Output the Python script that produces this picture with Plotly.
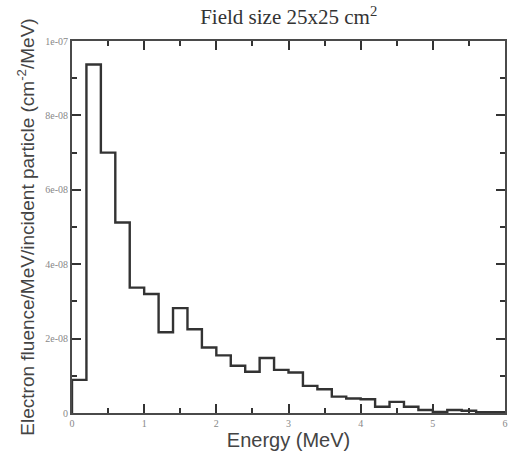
import plotly.graph_objects as go

# Electron fluence spectrum, 0.2 MeV bins
bin_edges = [0.0, 0.2, 0.4, 0.6, 0.8, 1.0, 1.2, 1.4, 1.6, 1.8, 2.0, 2.2, 2.4, 2.6, 2.8,
             3.0, 3.2, 3.4, 3.6, 3.8, 4.0, 4.2, 4.4, 4.6, 4.8, 5.0, 5.2, 5.4, 5.6, 5.8]
fluence = [0.89e-8, 9.37e-8, 7.00e-8, 5.12e-8, 3.37e-8, 3.20e-8, 2.17e-8, 2.82e-8, 2.25e-8,
           1.76e-8, 1.55e-8, 1.27e-8, 1.11e-8, 1.48e-8, 1.16e-8, 1.09e-8, 0.73e-8, 0.64e-8,
           0.44e-8, 0.39e-8, 0.37e-8, 0.17e-8, 0.30e-8, 0.17e-8, 0.08e-8, 0.03e-8, 0.08e-8,
           0.06e-8, 0.02e-8]

y_tickvals = [0, 2e-8, 4e-8, 6e-8, 8e-8, 1e-7]
y_ticktext = ["0", "2e-08", "4e-08", "6e-08", "8e-08", "1e-07"]
x_tickvals = [0, 1, 2, 3, 4, 5, 6]
x_ticktext = ["0", "1", "2", "3", "4", "5", "6"]

# Step outline: rise from zero at the first edge, drop to zero at the last edge
last_edge = bin_edges[-1] + (bin_edges[1] - bin_edges[0])
xs = [bin_edges[0]] + bin_edges + [last_edge, last_edge]
ys = [0] + fluence + [fluence[-1], 0]

fig = go.Figure()
fig.add_trace(go.Scatter(
    x=xs, y=ys, mode="lines",
    line=dict(shape="hv", color="#333333", width=2.4),
    hoverinfo="skip", showlegend=False,
))

axis_common = dict(
    showgrid=False, zeroline=False, showline=True, linecolor="#4a4a4a", linewidth=2,
    mirror="allticks", ticks="inside", tickcolor="#333333", tickwidth=2, ticklen=9,
    tickfont=dict(family="Liberation Serif", size=10, color="#888888"),
    layer="above traces",
)

fig.update_layout(
    width=511, height=459,
    margin=dict(l=72, r=3, t=41, b=46),
    paper_bgcolor="white", plot_bgcolor="white",
    title=dict(
        text="Field size 25x25 cm<sup>2</sup>",
        x=0.565, xanchor="center", y=0.963, yanchor="middle",
        font=dict(family="Liberation Serif", size=21, color="#333333"),
    ),
    xaxis=dict(
        range=[0, 6], tickvals=x_tickvals, ticktext=x_ticktext,
        minor=dict(tickvals=[0.5, 1.5, 2.5, 3.5, 4.5, 5.5], ticks="inside", ticklen=5,
                   tickcolor="#333333", tickwidth=2),
        title=dict(text="Energy (MeV)", standoff=4,
                   font=dict(family="Liberation Sans", size=20, color="#444444")),
        **axis_common,
    ),
    yaxis=dict(
        range=[0, 1e-7], tickvals=y_tickvals, ticktext=y_ticktext,
        minor=dict(tickvals=[1e-8, 3e-8, 5e-8, 7e-8, 9e-8], ticks="inside", ticklen=5,
                   tickcolor="#333333", tickwidth=2),
        title=dict(text="Electron fluence/MeV/incident particle (cm<sup>-2</sup>/MeV)",
                   standoff=6,
                   font=dict(family="Liberation Sans", size=19, color="#444444")),
        **axis_common,
    ),
)

fig.write_html("out.html")
